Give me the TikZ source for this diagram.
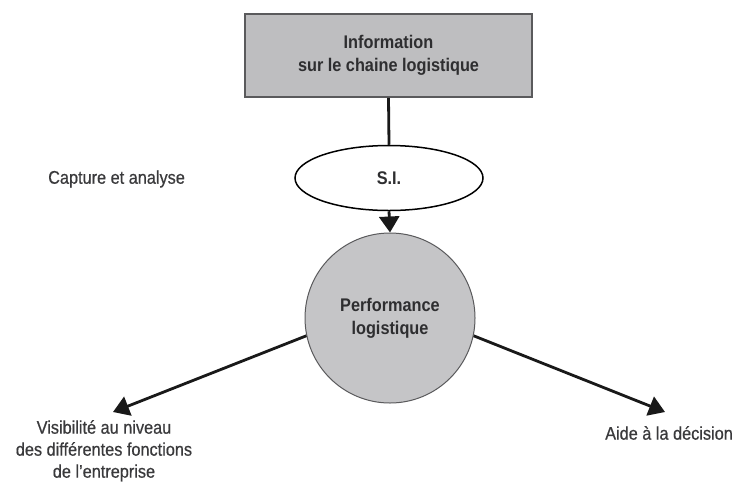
\documentclass[tikz,border=0pt]{standalone}
\usepackage{fontspec}
\setmainfont[FakeStretch=0.89]{Liberation Sans}
\newfontfamily\labelfont[FakeStretch=0.89,FakeBold=0.6]{Liberation Sans}
\usetikzlibrary{arrows.meta,shapes.geometric}
\definecolor{boxgray}{HTML}{BEBEC0}
\definecolor{discgray}{HTML}{C5C5C7}
\definecolor{edgegray}{HTML}{5A5A5C}
\definecolor{inkgray}{HTML}{2E2E30}
\definecolor{labelgray}{HTML}{3A3A3C}
\tikzset{
  txt/.style={text=labelgray, font=\labelfont\fontsize{18.3}{22}\selectfont, align=center, inner sep=0pt},
  btxt/.style={text=inkgray, align=center, inner sep=0pt, font=\fontsize{18.3}{23}\selectfont\bfseries},
  infobox/.style={btxt, draw=edgegray, line width=1.8pt, fill=boxgray,
    minimum width=287pt, minimum height=83pt},
  sibox/.style={btxt, ellipse, draw=black, line width=1.5pt, fill=white,
    minimum width=188pt, minimum height=65pt},
  perfdisc/.style={btxt, circle, draw=edgegray, line width=1pt, fill=discgray,
    minimum size=170pt},
  link/.style={draw=black!90, line width=2.8pt},
  arr/.style={link, -{Triangle[length=16pt,width=20pt]}}
}
\begin{document}
\begin{tikzpicture}[x=1pt,y=-1pt]
  \useasboundingbox[fill=white] (0,0) rectangle (735,483);

  % nodes
  \node[infobox] (info) at (388.5,55.5) {Information\\sur le chaine logistique};
  \node[sibox] (si) at (389,178) {S.I.};
  \node[perfdisc] (perf) at (390,318) {Performance\\logistique};

  % labels
  \node[txt, anchor=west] (capt) at (48,179) {Capture et analyse};
  \node[txt, anchor=north] (vis) at (104,420) {Visibilité au niveau\\des différentes fonctions\\de l’entreprise};
  \node[txt, anchor=west] (aide) at (605,433) {Aide à la décision};

  % arrow tips
  \coordinate (lt) at (113,412);
  \coordinate (rt) at (665,412);

  % connectors
  \draw[link] (info.south) -- (si.north);
  \draw[arr] (si.south) -- (perf.north);
  \draw[arr] (perf.192) -- (lt);
  \draw[arr] (perf.348) -- (rt);
\end{tikzpicture}
\end{document}
